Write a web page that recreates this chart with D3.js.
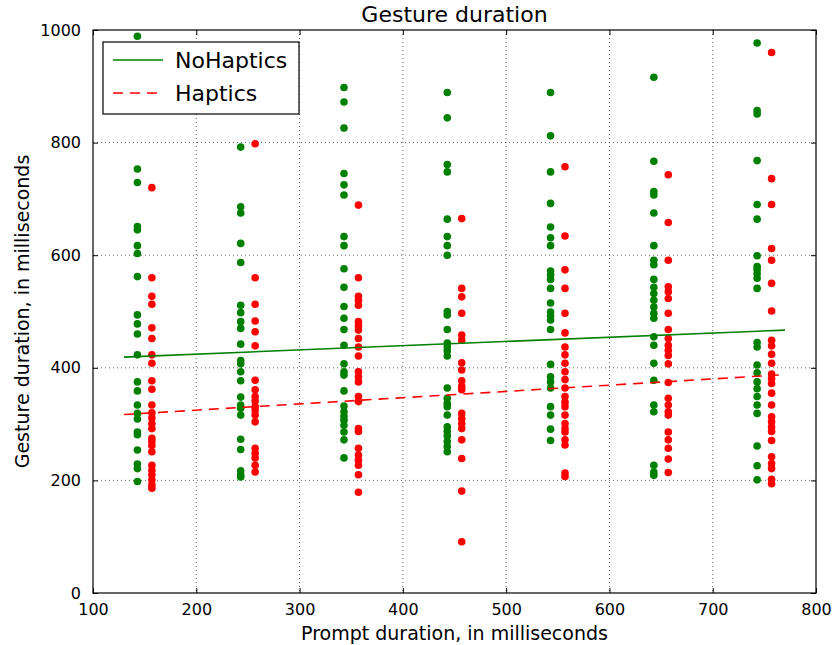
<!DOCTYPE html>
<html>
<head>
<meta charset="utf-8">
<script src="https://cdn.jsdelivr.net/npm/d3@7"></script>
<style>
  body { margin: 0; background: #fff; }
  text { font-family: "DejaVu Sans", sans-serif; fill: #000; }
  .grid line { stroke: #000; stroke-dasharray: 1,3; stroke-width: 1; opacity: 0.6; }
</style>
</head>
<body>
<div id="chart"></div>
<script>
// prompt durations (centre of each group); the two conditions sit either side
var prompts = [150, 250, 350, 450, 550, 650, 750]

var noHaptics = [
  [989, 753, 729, 651, 645, 617, 603, 562, 494, 478, 460, 423, 375, 359, 334, 319, 309, 286, 281, 254, 229, 221, 198],
  [792, 686, 675, 621, 587, 511, 498, 482, 470, 442, 413, 407, 393, 377, 348, 334, 328, 316, 273, 255, 217, 210, 206],
  [898, 872, 826, 745, 725, 707, 633, 617, 576, 543, 509, 488, 468, 440, 407, 393, 387, 359, 332, 322, 314, 307, 298, 286, 272, 240],
  [889, 844, 761, 748, 664, 633, 617, 600, 500, 494, 468, 444, 437, 430, 421, 364, 346, 337, 331, 316, 295, 287, 279, 269, 260, 251],
  [889, 812, 748, 692, 650, 631, 617, 572, 565, 557, 541, 515, 499, 492, 485, 468, 406, 384, 375, 364, 331, 316, 291, 271],
  [916, 767, 713, 707, 675, 617, 591, 583, 557, 543, 532, 520, 508, 497, 488, 455, 440, 408, 378, 334, 322, 227, 215, 209],
  [977, 857, 851, 768, 690, 664, 599, 580, 574, 567, 559, 541, 445, 437, 405, 391, 375, 363, 349, 334, 319, 261, 226, 201]
]

var haptics = [
  [720, 560, 527, 513, 471, 452, 423, 408, 377, 362, 334, 320, 311, 301, 292, 275, 269, 262, 251, 227, 218, 210, 201, 192, 186],
  [798, 560, 513, 483, 464, 439, 378, 361, 349, 341, 331, 325, 316, 304, 257, 248, 240, 227, 215],
  [689, 560, 527, 520, 511, 482, 474, 467, 452, 437, 421, 393, 384, 375, 349, 340, 292, 287, 257, 245, 236, 227, 210, 179],
  [665, 541, 526, 497, 458, 449, 409, 396, 377, 367, 361, 319, 310, 301, 292, 272, 239, 181, 91],
  [757, 634, 574, 541, 497, 462, 437, 423, 408, 393, 379, 364, 349, 339, 331, 316, 301, 292, 286, 272, 263, 213, 207],
  [743, 658, 591, 544, 535, 523, 497, 468, 452, 440, 431, 422, 407, 374, 346, 334, 322, 316, 286, 272, 257, 238, 214],
  [960, 736, 690, 612, 591, 550, 501, 449, 439, 424, 408, 389, 381, 372, 355, 334, 313, 304, 295, 287, 271, 242, 230, 221, 202, 194]
]

// fitted trend lines, end points
var fitX = [130, 770]
var fitNoHaptics = [419, 467]
var fitHaptics = [317, 388]

var xTicks = [100, 200, 300, 400, 500, 600, 700, 800]
var yTicks = [0, 200, 400, 600, 800, 1000]

var W = 833, H = 645,
    margin = {top: 30, right: 17, bottom: 52, left: 93},
    width = W - margin.left - margin.right,
    height = H - margin.top - margin.bottom

var svg = d3.select("#chart").append("svg").attr("width", W).attr("height", H)
var g = svg.append("g").attr("transform", "translate(" + margin.left + "," + margin.top + ")")

var x = d3.scaleLinear().domain([100, 800]).range([0, width])
var y = d3.scaleLinear().domain([0, 1000]).range([height, 0])

// grid
g.append("g").attr("class", "grid")
  .selectAll("line").data(xTicks.slice(1, -1)).enter().append("line")
  .attr("x1", function(d){ return x(d) }).attr("x2", function(d){ return x(d) })
  .attr("y1", 0).attr("y2", height)
g.append("g").attr("class", "grid")
  .selectAll("line").data(yTicks.slice(1, -1)).enter().append("line")
  .attr("y1", function(d){ return y(d) }).attr("y2", function(d){ return y(d) })
  .attr("x1", 0).attr("x2", width)

// points
function flatten(groups, offset){
  var out = []
  groups.forEach(function(vals, i){
    vals.forEach(function(v){ out.push({x: prompts[i] + offset, y: v}) })
  })
  return out
}

g.selectAll("circle.nh").data(flatten(noHaptics, -7)).enter().append("circle")
  .attr("class", "nh")
  .attr("cx", function(d){ return x(d.x) })
  .attr("cy", function(d){ return y(d.y) })
  .attr("r", 3.8)
  .style("fill", "#008000")

g.selectAll("circle.h").data(flatten(haptics, 7)).enter().append("circle")
  .attr("class", "h")
  .attr("cx", function(d){ return x(d.x) })
  .attr("cy", function(d){ return y(d.y) })
  .attr("r", 3.8)
  .style("fill", "#ff0000")

// trend lines
var line = d3.line().x(function(d){ return x(d[0]) }).y(function(d){ return y(d[1]) })
g.append("path").datum(fitX.map(function(v, i){ return [v, fitNoHaptics[i]] }))
  .attr("d", line).style("fill", "none").style("stroke", "#008000").style("stroke-width", 1.6)
g.append("path").datum(fitX.map(function(v, i){ return [v, fitHaptics[i]] }))
  .attr("d", line).style("fill", "none").style("stroke", "#ff0000").style("stroke-width", 1.6)
  .style("stroke-dasharray", "10,7")

// axes, ticks pointing inward on all four sides
var fs = "16px", fmt = d3.format("d")
var xb = g.append("g").attr("transform", "translate(0," + height + ")")
  .call(d3.axisBottom(x).tickValues(xTicks).tickFormat(fmt).tickSizeInner(-5).tickSizeOuter(0).tickPadding(11))
var xt = g.append("g").call(d3.axisTop(x).tickValues(xTicks).tickSizeInner(-5).tickSizeOuter(0).tickFormat(""))
var yl = g.append("g").call(d3.axisLeft(y).tickValues(yTicks).tickFormat(fmt).tickSizeInner(-5).tickSizeOuter(0).tickPadding(12))
var yr = g.append("g").attr("transform", "translate(" + width + ",0)")
  .call(d3.axisRight(y).tickValues(yTicks).tickSizeInner(-5).tickSizeOuter(0).tickFormat(""))
;[xb, xt, yl, yr].forEach(function(a){
  a.select(".domain").remove()
  a.selectAll("line").style("stroke", "#000")
  a.selectAll("text").style("font-size", fs).style("font-family", "DejaVu Sans, sans-serif")
})

g.append("rect").attr("width", width).attr("height", height)
  .style("fill", "none").style("stroke", "#000").style("stroke-width", 1.2)

// titles
svg.append("text").attr("x", margin.left + width / 2).attr("y", 22)
  .attr("text-anchor", "middle").style("font-size", "22px").text("Gesture duration")
svg.append("text").attr("x", margin.left + width / 2).attr("y", 640)
  .attr("text-anchor", "middle").style("font-size", "19px").text("Prompt duration, in milliseconds")
svg.append("text").attr("transform", "translate(29," + (margin.top + height / 2) + ") rotate(-90)")
  .attr("text-anchor", "middle").style("font-size", "19px").text("Gesture duration, in milliseconds")

// legend
var legend = [{name: "NoHaptics", color: "#008000", dash: null}, {name: "Haptics", color: "#ff0000", dash: "10,7"}]
var lg = svg.append("g").attr("transform", "translate(103,42)")
lg.append("rect").attr("width", 196).attr("height", 72)
  .style("fill", "#fff").style("stroke", "#000").style("stroke-width", 1.2)
var le = lg.selectAll("g.le").data(legend).enter().append("g")
  .attr("transform", function(d, i){ return "translate(0," + (18 + i * 33) + ")" })
le.append("line").attr("x1", 10).attr("x2", 60).attr("y1", 0).attr("y2", 0)
  .style("stroke", function(d){ return d.color }).style("stroke-width", 1.6)
  .style("stroke-dasharray", function(d){ return d.dash })
le.append("text").attr("x", 72).attr("y", 8).style("font-size", "22px").text(function(d){ return d.name })
</script>
</body>
</html>
